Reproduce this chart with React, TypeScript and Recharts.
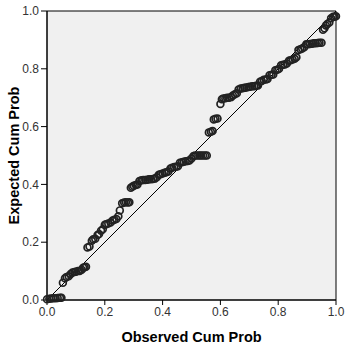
import { ScatterChart, Scatter, XAxis, YAxis, ReferenceArea, ReferenceLine } from 'recharts';

// observed vs expected cumulative probability (P-P plot)
const observed = [
  0, 0.008, 0.015, 0.022, 0.03, 0.037, 0.045, 0.05,
  0.055, 0.062, 0.068, 0.075, 0.082, 0.088, 0.095, 0.1, 0.107, 0.113, 0.12, 0.125, 0.13, 0.135,
  0.14, 0.147, 0.155, 0.16, 0.167, 0.175, 0.18, 0.187, 0.193, 0.2, 0.205, 0.212, 0.22, 0.227,
  0.233, 0.24, 0.247, 0.252, 0.26, 0.267, 0.273, 0.28, 0.285,
  0.29, 0.295, 0.3, 0.307, 0.313, 0.32, 0.327, 0.333, 0.34, 0.347, 0.353, 0.36, 0.367, 0.373,
  0.38, 0.387, 0.393, 0.4, 0.407, 0.413, 0.42, 0.427, 0.433, 0.44, 0.447, 0.453, 0.46, 0.467,
  0.473, 0.48, 0.487, 0.493, 0.5, 0.507, 0.513, 0.52, 0.527, 0.533, 0.54, 0.547, 0.553,
  0.56, 0.567, 0.573, 0.577, 0.583, 0.59,
  0.6, 0.605, 0.61, 0.617, 0.623, 0.63, 0.637, 0.643, 0.65, 0.657, 0.663, 0.67, 0.677, 0.683,
  0.69, 0.697, 0.703, 0.71, 0.717, 0.723, 0.73, 0.737, 0.743, 0.75, 0.757, 0.763, 0.77, 0.777,
  0.783, 0.79, 0.797, 0.803, 0.81, 0.817, 0.823, 0.83, 0.837, 0.843, 0.85, 0.857, 0.863, 0.87,
  0.877, 0.883, 0.89, 0.897, 0.903, 0.91, 0.917, 0.923, 0.93, 0.937, 0.943, 0.95,
  0.955, 0.96, 0.965, 0.97, 0.977, 0.983, 0.99, 0.995, 1.0,
];
const expected = [
  0.003, 0.004, 0.005, 0.006, 0.006, 0.007, 0.008, 0.008,
  0.06, 0.075, 0.08, 0.082, 0.09, 0.095, 0.097, 0.098, 0.1, 0.1, 0.105, 0.112, 0.113, 0.115,
  0.182, 0.185, 0.205, 0.21, 0.212, 0.225, 0.228, 0.24, 0.245, 0.26, 0.262, 0.265, 0.268, 0.275,
  0.278, 0.28, 0.29, 0.31, 0.335, 0.337, 0.338, 0.337, 0.338,
  0.388, 0.392, 0.395, 0.398, 0.4, 0.412, 0.414, 0.415, 0.415, 0.416, 0.418, 0.418, 0.419, 0.42,
  0.425, 0.433, 0.435, 0.438, 0.44, 0.442, 0.445, 0.455, 0.458, 0.46, 0.461, 0.463, 0.475, 0.477,
  0.478, 0.48, 0.481, 0.483, 0.49, 0.498, 0.5, 0.5, 0.5, 0.5, 0.5, 0.5, 0.5,
  0.58, 0.582, 0.585, 0.625, 0.627, 0.628,
  0.678, 0.695, 0.697, 0.698, 0.7, 0.7, 0.702, 0.708, 0.712, 0.715, 0.728, 0.732, 0.733, 0.734,
  0.735, 0.737, 0.738, 0.74, 0.74, 0.741, 0.742, 0.755, 0.758, 0.762, 0.763, 0.765, 0.778, 0.779,
  0.78, 0.795, 0.797, 0.8, 0.812, 0.814, 0.815, 0.818, 0.828, 0.83, 0.832, 0.835, 0.84, 0.865,
  0.868, 0.87, 0.875, 0.885, 0.885, 0.886, 0.887, 0.888, 0.888, 0.889, 0.89, 0.89,
  0.935, 0.94, 0.95, 0.955, 0.96, 0.975, 0.98, 0.98, 0.982,
];
const ticks = [0, 0.2, 0.4, 0.6, 0.8, 1.0];

const points = observed.map((x, i) => ({ x, y: expected[i] }));

const font = 'Arial, "Liberation Sans", sans-serif';
const tickStyle = { fontSize: 12, fill: '#333', fontFamily: font };

const Ring = (props: any) => (
  <circle cx={props.cx} cy={props.cy} r={3.4} fill="none" stroke="#222" strokeWidth={1.7} />
);

export default function App() {
  return (
    <div style={{ position: 'absolute', left: 0, top: 0, width: 359, height: 355, background: '#fff' }}>
      <ScatterChart width={359} height={355} margin={{ top: 11, right: 23, bottom: 0, left: 0 }}>
        <ReferenceArea x1={0} x2={1} y1={0} y2={1} fill="#f0f0f0" fillOpacity={1} stroke="#000" strokeWidth={1} />
        <XAxis
          type="number"
          dataKey="x"
          domain={[0, 1]}
          ticks={ticks}
          tickFormatter={(v) => v.toFixed(1)}
          tick={tickStyle}
          tickSize={5}
          tickMargin={2}
          stroke="#000"
          height={55}
          label={{ value: 'Observed Cum Prob', position: 'insideBottom', offset: 13, style: { fontSize: 14.5, fontWeight: 'bold', fill: '#000', fontFamily: font } }}
        />
        <YAxis
          type="number"
          dataKey="y"
          domain={[0, 1]}
          ticks={ticks}
          tickFormatter={(v) => v.toFixed(1)}
          tick={tickStyle}
          tickSize={6}
          tickMargin={2}
          stroke="#000"
          width={47}
          label={{ value: 'Expected Cum Prob', angle: -90, position: 'insideLeft', offset: 0, dx: 14, style: { textAnchor: 'middle', fontSize: 14.5, fontWeight: 'bold', fill: '#000', fontFamily: font } }}
        />
        <ReferenceLine segment={[{ x: 0, y: 0 }, { x: 1, y: 1 }]} stroke="#000" strokeWidth={1} />
        <Scatter data={points} shape={Ring} isAnimationActive={false} />
      </ScatterChart>
    </div>
  );
}
